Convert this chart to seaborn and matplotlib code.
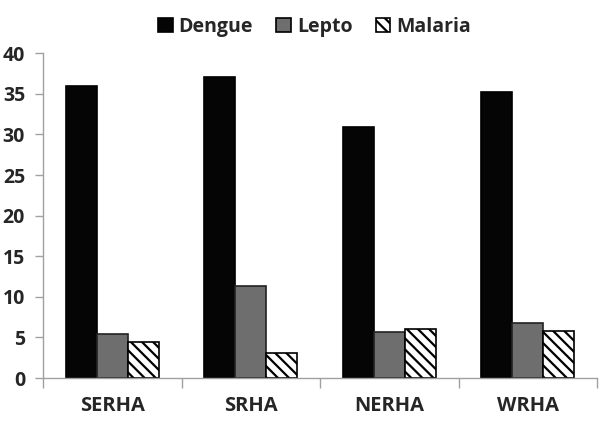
import numpy as np
import pandas as pd
import matplotlib
matplotlib.use('Agg')
import matplotlib.pyplot as plt
import seaborn as sns

# data
regions = ['SERHA', 'SRHA', 'NERHA', 'WRHA']
dengue = [36.0, 37.1, 30.9, 35.2]
lepto = [5.4, 11.4, 5.7, 6.8]
malaria = [4.5, 3.1, 6.0, 5.8]
diseases = ['Dengue', 'Lepto', 'Malaria']

sns.set_theme(style='white')
plt.rcParams['font.family'] = ['Open Sans', 'DejaVu Sans']
plt.rcParams['hatch.linewidth'] = 1.6

df = pd.DataFrame({
    'region': regions * 3,
    'disease': [d for d in diseases for _ in regions],
    'value': dengue + lepto + malaria,
})

fig = plt.figure(figsize=(6, 4.22), dpi=100)
ax = fig.add_axes([0.072, 0.104, 0.923, 0.77])

palette = {'Dengue': '#050505', 'Lepto': '#6e6e6e', 'Malaria': '#ffffff'}
sns.barplot(data=df, x='region', y='value', hue='disease', order=regions,
            hue_order=diseases, palette=palette, width=0.67, gap=0,
            edgecolor='black', linewidth=1.2, saturation=1, ax=ax)

# hatch the malaria bars
n = len(regions)
for p in ax.patches[2 * n:3 * n]:
    p.set_hatch('\\\\\\')
for p in ax.patches[n:2 * n]:
    p.set_edgecolor('#222222')

ax.set_ylim(0, 40)
ax.set_xlim(-0.5, n - 0.5)
ax.set_yticks(np.arange(0, 41, 5))
ax.set_xlabel('')
ax.set_ylabel('')

# Excel-style ticks between categories, labels centered
ax.set_xticks(np.arange(-0.5, n, 1.0))
ax.set_xticklabels([''] * (n + 1))
ax.set_xticks(np.arange(n), minor=True)
ax.set_xticklabels(regions, minor=True, fontsize=14.5, fontweight='bold')
ax.tick_params(axis='x', which='minor', length=0, pad=13)
ax.tick_params(axis='x', which='major', length=7, width=1, color='#a0a0a0', direction='out', bottom=True)
ax.tick_params(axis='y', length=6, width=1, color='#a0a0a0', direction='out', left=True, pad=7)
for lbl in ax.get_yticklabels():
    lbl.set_fontsize(14)
    lbl.set_fontweight('bold')

for s in ['top', 'right']:
    ax.spines[s].set_visible(False)
for s in ['left', 'bottom']:
    ax.spines[s].set_color('#a0a0a0')
    ax.spines[s].set_linewidth(1)

leg = ax.legend(loc='upper center', bbox_to_anchor=(0.49, 1.165), ncol=3, frameon=False,
                handlelength=0.75, handleheight=0.75, handletextpad=0.3, columnspacing=1.2,
                prop={'size': 14, 'weight': 'bold'})
leg.legend_handles[2].set_hatch('\\\\\\')
leg.legend_handles[2].set_edgecolor('black')

fig.savefig('out.png', dpi=100)
